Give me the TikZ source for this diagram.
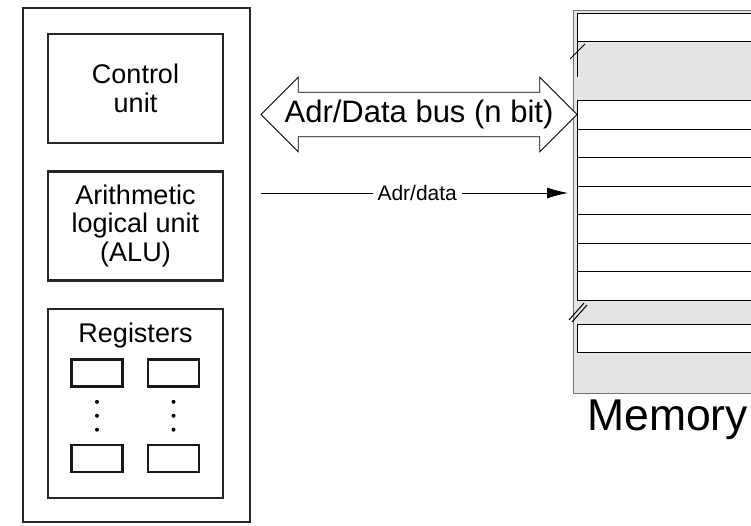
\documentclass[tikz,border=0pt]{standalone}
\usepackage{fontspec}
\setmainfont{Liberation Sans}
\usepackage{tikz}
\usetikzlibrary{
	positioning,
	arrows.meta,
	shapes.arrows,
	calc
}

\tikzset{
	unit/.style={draw=black!85,line width=2.4pt,minimum width=175pt,minimum height=109pt,
		align=center,font=\fontsize{27}{28.5}\selectfont},
	reg/.style={draw=black!90,line width=2.8pt,minimum width=51pt,minimum height=27pt,inner sep=0pt},
	cell/.style={draw,fill=white,line width=0.8pt},
	brk/.style={line width=1pt},
	bus/.style={double arrow,draw,line width=0.8pt,fill=white,
		double arrow tip angle=90,double arrow head extend=15pt,
		minimum height=316pt,inner xsep=0pt,inner ysep=7.5pt,
		font=\fontsize{31}{33}\selectfont}
}

\begin{document}
\begin{tikzpicture}[x=1pt,y=-1pt]
		\useasboundingbox (0,0) rectangle (751,526);

		% processor
		\node[draw=black!85,line width=2.8pt,minimum width=227pt,minimum height=514pt] (cpu) at (136.5,265) {};
		\node[unit]                      (ctrl) at (135.5,88.5) {Control\\unit};
		\node[unit,below=26pt of ctrl]   (alu)  {Arithmetic\\logical unit\\(ALU)};
		\node[unit,below=26pt of alu,minimum height=189pt] (regs) {};
		\node[anchor=base,font=\fontsize{27}{28.5}\selectfont] (reglbl) at ([yshift=-35pt]regs.north) {Registers};

		\node[reg] (r1) at (97,373)    {};
		\node[reg] (r2) at (173.5,373) {};
		\node[reg] (r3) at (97,458.5)  {};
		\node[reg] (r4) at (173.5,458.5) {};
		\foreach \t in {0.25,0.5,0.75}{
			\fill ($(r1.south)!\t!(r3.north)$) circle (2pt);
			\fill ($(r2.south)!\t!(r4.north)$) circle (2pt);
		}

		% memory
		\node[draw=black!55,fill=gray!21,line width=1pt,minimum width=190pt,minimum height=383pt,
			anchor=north west,inner sep=0pt] (mem) at (573,10) {};
		\foreach \t/\b in {13/41,100/129,129/157,157/186,186/214,214/243,243/271,271/300,324/352}
			\draw[cell] (577,\t) rectangle (765,\b);
		\draw (577,41) -- (577,77);
		\draw[brk] (570,59) -- (585,44);
		\draw[brk] (569,320) -- (584,303) (572,322) -- (587,305);
		\node[anchor=base west,inner xsep=0pt,font=\fontsize{44.5}{46}\selectfont] (memlbl) at (587,430) {Memory};

		% buses
		\node[bus] (adrbus) at (419,114.5) {Adr/Data bus (n bit)};
		\coordinate (adr) at ([xshift=10pt]cpu.east |- 0,193);
		\draw[line width=0.8pt,-{Latex[length=21pt,width=11pt]},shorten >=5pt]
			(adr) -- node[fill=white,inner xsep=5pt,inner ysep=1pt,font=\fontsize{21}{23}\selectfont]{Adr/data} (adr -| mem.west);
	\end{tikzpicture}
\end{document}
